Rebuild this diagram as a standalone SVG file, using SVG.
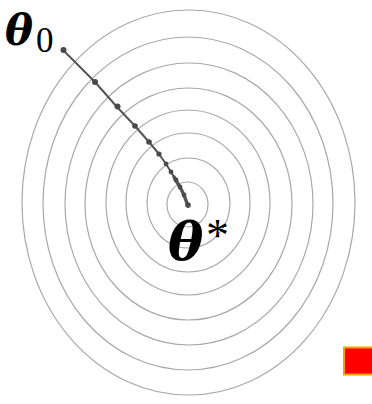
<svg xmlns="http://www.w3.org/2000/svg" width="372" height="404" viewBox="0 0 372 404">
<style>
.ring{fill:none;stroke:#a8a8a8;stroke-width:1.2}
.path{fill:none;stroke:#555;stroke-width:2;stroke-linecap:round;stroke-linejoin:round}
.dot{fill:#4a4a4a}
.th{font-family:"DejaVu Serif","Liberation Serif",serif;font-weight:bold;font-style:italic;fill:#000}
.sub{font-family:"Liberation Serif","DejaVu Serif",serif;fill:#000}
</style>
<g id="contours">
<ellipse class="ring" cx="188.5" cy="202.5" rx="166.5" ry="192.5"/>
<ellipse class="ring" cx="188" cy="203.5" rx="145" ry="166.5"/>
<ellipse class="ring" cx="189" cy="204" rx="124" ry="141"/>
<ellipse class="ring" cx="188.5" cy="204" rx="103.5" ry="116"/>
<ellipse class="ring" cx="188" cy="202.5" rx="82" ry="92.5"/>
<ellipse class="ring" cx="188" cy="202.5" rx="62" ry="69.5"/>
<ellipse class="ring" cx="188.5" cy="203" rx="41.5" ry="45"/>
<ellipse class="ring" cx="187.5" cy="204.5" rx="20.5" ry="22.5"/>
</g>
<g id="connectors">
<polyline class="path" points="63,50 95,82 117,107 135,126 149,142 159,154 166,164 171,172 176,180 180,187 184,195 188,206"/>
<path d="M174,177 L180,187 L184,195 L188,206" fill="none" stroke="#555" stroke-width="3.5" stroke-linecap="round"/>
</g>
<g id="iterates">
<circle class="dot" cx="63.5" cy="50" r="3"/>
<circle class="dot" cx="95" cy="82" r="3"/>
<circle class="dot" cx="117.5" cy="106.5" r="3"/>
<circle class="dot" cx="135" cy="126" r="2.8"/>
<circle class="dot" cx="149" cy="142" r="2.8"/>
<circle class="dot" cx="159" cy="154" r="2.6"/>
<circle class="dot" cx="166" cy="164" r="2.4"/>
<circle class="dot" cx="171" cy="172" r="2.4"/>
<circle class="dot" cx="176" cy="180" r="2.4"/>
<circle class="dot" cx="180" cy="187" r="2.4"/>
<circle class="dot" cx="184" cy="195" r="2.4"/>
<circle class="dot" cx="188" cy="205" r="2.8"/>
</g>
<g id="label-theta0">
<text class="th" x="5" y="45" font-size="42">θ</text>
<text class="sub" x="36" y="52" font-size="35">0</text>
</g>
<g id="label-thetastar">
<text class="th" x="168" y="260" font-size="53">θ</text>
<text class="sub" x="206" y="251" font-size="46">*</text>
</g>
<rect id="marker-square" x="344" y="347.5" width="30" height="27" fill="#ff0000" stroke="#f5a000" stroke-width="2"/>
</svg>
